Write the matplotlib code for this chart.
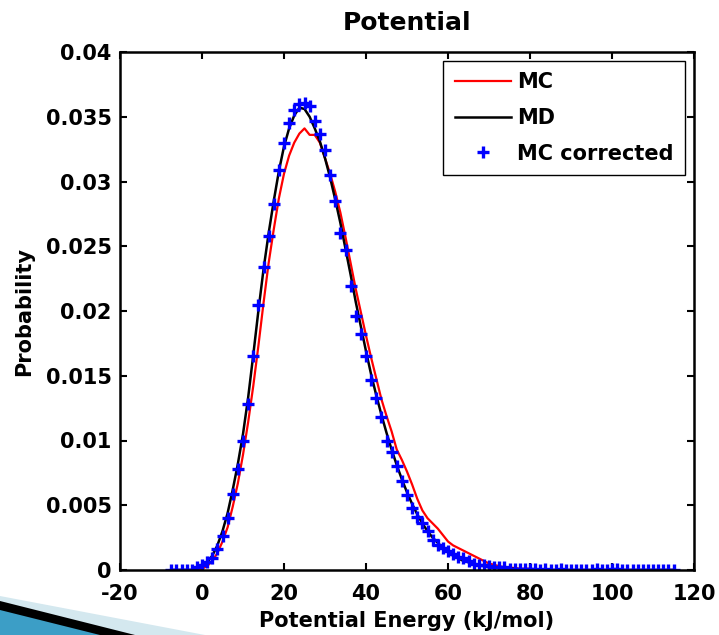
import matplotlib
matplotlib.use('Agg')
import matplotlib.pyplot as plt
from matplotlib.patches import Polygon
import numpy as np

# bin centres (kJ/mol)
energy = np.arange(-7.5, 115.1, 1.25)

# MC corrected (markers)
mc_corr = [0, 0, 0, 0, 0.00002, 0.0002, 0.0004, 0.0006, 0.0009, 0.0016,
           0.0026, 0.0040, 0.0059, 0.0078, 0.0100, 0.0128, 0.0165, 0.0205, 0.0234, 0.0258,
           0.0283, 0.0309, 0.0330, 0.0345, 0.0355, 0.0360, 0.0361, 0.0358, 0.0347, 0.0337,
           0.0324, 0.0305, 0.0285, 0.0260, 0.0247, 0.0219, 0.0196, 0.0182, 0.0165, 0.0147,
           0.0133, 0.0118, 0.0100, 0.0091, 0.0080, 0.0069, 0.0058, 0.0048, 0.0041, 0.0036,
           0.0030, 0.0023, 0.0019, 0.0017, 0.0015, 0.0012, 0.0010, 0.0009, 0.0007, 0.0005,
           0.0004, 0.0004, 0.0003, 0.0002, 0.0002, 0.0002, 0.0001, 0.0001, 0.0001, 0.0001,
           0.0001, 0.00005, 0, 0.00005, 0, 0, 0.00005, 0, 0, 0,
           0, 0, 0, 0.00005, 0, 0, 0.00008, 0.00005, 0, 0,
           0, 0, 0, 0, 0, 0, 0, 0, 0]

# MD (black line)
md = [0, 0, 0, 0, 0, 0.0001, 0.0003, 0.0006, 0.0011, 0.0019,
      0.0030, 0.0044, 0.0062, 0.0082, 0.0105, 0.0133, 0.0166, 0.0200, 0.0232, 0.0260,
      0.0285, 0.0308, 0.0327, 0.0341, 0.0351, 0.0357, 0.0356, 0.0350, 0.0341, 0.0331,
      0.0318, 0.0303, 0.0286, 0.0268, 0.0248, 0.0228, 0.0207, 0.0188, 0.0169, 0.0151,
      0.0135, 0.0120, 0.0106, 0.0093, 0.0081, 0.0070, 0.0060, 0.0051, 0.0043, 0.0036,
      0.0030, 0.0025, 0.0021, 0.0017, 0.0014, 0.0011, 0.0009, 0.0007, 0.0006, 0.0005,
      0.0004, 0.0003, 0.0002, 0.0002, 0.00015, 0.0001, 0.0001, 0.0001, 0.00005, 0.00005,
      0.00003, 0, 0, 0, 0, 0, 0, 0, 0, 0,
      0, 0, 0, 0, 0, 0, 0, 0, 0, 0,
      0, 0, 0, 0, 0, 0, 0, 0, 0]

# MC (red line)
mc = [0, 0, 0, 0, 0, 0, 0.0001, 0.0003, 0.0007, 0.0013,
      0.0022, 0.0033, 0.0049, 0.0067, 0.0089, 0.0114, 0.0142, 0.0173, 0.0206, 0.0237,
      0.0263, 0.0287, 0.0306, 0.0320, 0.0330, 0.0337, 0.0341, 0.0336, 0.0336, 0.0330,
      0.0318, 0.0306, 0.0292, 0.0276, 0.0257, 0.0237, 0.0217, 0.0199, 0.0181, 0.0164,
      0.0148, 0.0132, 0.0119, 0.0107, 0.0093, 0.0085, 0.0076, 0.0066, 0.0055, 0.0046,
      0.0040, 0.0036, 0.0032, 0.0027, 0.0022, 0.0019, 0.0017, 0.0015, 0.0013, 0.0011,
      0.0009, 0.0007, 0.0005, 0.0004, 0.0003, 0.0002, 0.0002, 0.00015, 0.0001, 0.0001,
      0.0001, 0.00005, 0.00005, 0, 0, 0, 0, 0, 0, 0,
      0, 0, 0, 0, 0, 0, 0, 0, 0, 0,
      0, 0, 0, 0, 0, 0, 0, 0, 0]

plt.rcParams['font.family'] = ['DejaVu Sans']
plt.rcParams['font.weight'] = 'bold'
plt.rcParams['font.size'] = 15
plt.rcParams['axes.unicode_minus'] = False

W, H = 719, 635
fig = plt.figure(figsize=(W / 100, H / 100), dpi=100)
ax = fig.add_axes([120 / W, 1 - 570 / H, (694 - 120) / W, (570 - 52) / H])

ax.plot(energy, mc, color='red', lw=1.6, label='MC')
ax.plot(energy, md, color='black', lw=1.8, label='MD')
ax.plot(energy, mc_corr, ls='none', marker='+', color='blue', ms=9, mew=2.4,
        label='MC corrected')

ax.set_xlim(-20, 120)
ax.set_ylim(0, 0.04)
ax.set_xticks(np.arange(-20, 121, 20))
ax.set_yticks(np.arange(0, 0.0401, 0.005))
ax.set_yticklabels(['0', '0.005', '0.01', '0.015', '0.02', '0.025', '0.03', '0.035', '0.04'])
ax.tick_params(direction='in', top=True, right=True, length=5, width=1.5)
ax.tick_params(axis='x', pad=10)
ax.tick_params(axis='y', pad=6)
for s in ax.spines.values():
    s.set_linewidth(1.8)

ax.set_title('Potential', pad=16, fontweight='bold')
ax.set_xlabel('Potential Energy (kJ/mol)', labelpad=5, fontweight='bold')
ax.set_ylabel('Probability', labelpad=8, fontweight='bold')

leg = ax.legend(loc='upper right', bbox_to_anchor=(0.985, 0.983), fancybox=False,
                framealpha=1, edgecolor='black', handlelength=2.7, handletextpad=0.3,
                borderpad=0.55, labelspacing=0.75, borderaxespad=0)
leg.get_frame().set_linewidth(1.0)

# slide decoration in the lower left corner
def fpoly(pts, color):
    p = Polygon([(x / W, 1 - y / H) for x, y in pts], closed=True,
                transform=fig.transFigure, facecolor=color, edgecolor='none')
    fig.patches.append(p)

fpoly([(0, 596), (205, 635), (0, 635)], '#d4e8ef')
fpoly([(0, 601), (135, 635), (0, 635)], 'black')
fpoly([(0, 610), (100, 635), (0, 635)], '#3c9ec6')

fig.savefig('out.png', dpi=100)
